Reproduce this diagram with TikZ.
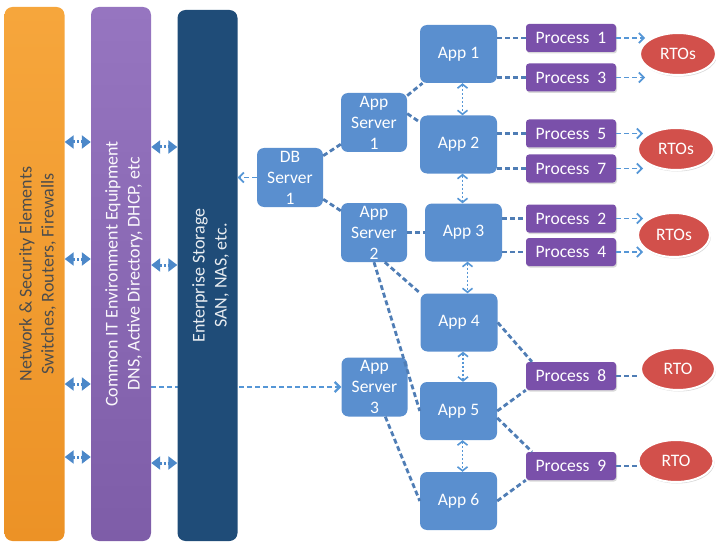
\documentclass[tikz,border=0pt]{standalone}
\usepackage{fontspec}
\setmainfont{Carlito}
\usetikzlibrary{arrows.meta, shapes.geometric, shadows}
\pgfdeclarelayer{bg}
\pgfsetlayers{bg,main}
\definecolor{netorange}{HTML}{F6A63C}
\definecolor{netorangedk}{HTML}{EC9226}
\definecolor{itpurple}{HTML}{9675C0}
\definecolor{itpurpledk}{HTML}{7E5DA8}
\definecolor{storeblue}{HTML}{1F4C78}
\definecolor{appblue}{HTML}{5A8FCF}
\definecolor{procpurple}{HTML}{7A50AA}
\definecolor{rtored}{HTML}{D2504B}
\definecolor{linkblue}{HTML}{4F7DB5}
\definecolor{flowblue}{HTML}{5596D6}
\definecolor{busblue}{HTML}{4C88C9}
\begin{document}
\begin{tikzpicture}[x=1pt, y=-1pt, >=latex,
    font=\fontsize{17.5}{21}\selectfont,
    bar/.style={rectangle, rotate=90, rounded corners=8pt, inner sep=0pt, minimum height=60},
    barlabel/.style={rotate=90, align=center, inner sep=0pt, font=\fontsize{18}{22}\selectfont},
    server/.style={rectangle, rounded corners=7pt, fill=appblue, text=white, align=center, inner sep=0pt, minimum width=66, minimum height=59},
    app/.style={server, minimum width=77, minimum height=58},
    proc/.style={rectangle, rounded corners=3pt, fill=procpurple, text=white, inner sep=0pt, minimum width=90, minimum height=28,
        drop shadow={opacity=.3, shadow xshift=1pt, shadow yshift=-1.5pt}},
    rto/.style={ellipse, fill=rtored, draw=white, line width=2pt, text=white, inner sep=0pt,
        drop shadow={opacity=.3, shadow xshift=1pt, shadow yshift=-1.5pt}},
    link/.style={draw=linkblue, line width=2.8pt, dash pattern=on 5pt off 3pt},
    flow/.style={draw=flowblue, line width=1.7pt, dash pattern=on 5pt off 3pt, -{Straight Barb[length=5pt,width=10pt]}},
    swap/.style={draw=flowblue, line width=1.6pt, dash pattern=on 2pt off 2pt,
        {Straight Barb[length=4pt,width=10pt]}-{Straight Barb[length=4pt,width=10pt]}},
    bus/.style={draw=busblue, line width=3pt, dash pattern=on 2pt off 2pt,
        {Triangle[length=9pt,width=13pt]}-{Triangle[length=9pt,width=13pt]}}]
\useasboundingbox (0,0) rectangle (716,543);

% infrastructure bars
\node[bar, minimum width=534, top color=netorange, bottom color=netorangedk] (net) at (34.5,274) {};
\node[bar, minimum width=534, top color=itpurple, bottom color=itpurpledk] (itenv) at (121,274) {};
\node[bar, minimum width=531, fill=storeblue] (store) at (207.5,275.5) {};
\node[barlabel, text=black!70] (netlbl) at ([xshift=3pt]net.center)
    {Network \& Security Elements\\Switches, Routers, Firewalls};
\node[barlabel, text=white!95!itpurple] (itenvlbl) at ([xshift=3pt]itenv.center)
    {Common IT Environment Equipment\\DNS, Active Directory, DHCP, etc};
\node[barlabel, text=white!90!storeblue] (storelbl) at ([xshift=3pt]store.center)
    {Enterprise Storage\\SAN, NAS, etc.};

\foreach \y in {142,259,384,457}
    \draw[bus] (net.south |- 0,\y) -- (itenv.north |- 0,\y);
\foreach \y in {147,265,463}
    \draw[bus] (itenv.south |- 0,\y) -- (store.north |- 0,\y);

% servers
\node[server] (db) at (290,177.5) {DB\\Server\\1};
\node[server] (as1) at (374,122.5) {App\\Server\\1};
\node[server] (as2) at (374,232.5) {App\\Server\\2};
\node[server] (as3) at (374.5,387) {App\\Server\\3};

\foreach \n/\x/\y in {1/458.5/54, 2/458.5/144.5, 3/463.5/232.5, 4/459/322.5, 5/458.5/411, 6/458.5/501}
    \node[app] (app\n) at (\x,\y) {App \n};

\foreach \n/\y in {1/38, 3/77.5, 5/133.5, 7/168.5, 2/218.5, 4/252, 8/376, 9/466}
    \node[proc] (p\n) at (571,\y) {Process~~\n};

\node[rto, minimum width=76, minimum height=42] (r1) at (678,54) {RTOs};
\node[rto, minimum width=76, minimum height=42] (r2) at (676,149) {RTOs};
\node[rto, minimum width=72, minimum height=44] (r3) at (674,235) {RTOs};
\node[rto, minimum width=74, minimum height=42] (r4) at (678,369) {RTO};
\node[rto, minimum width=75, minimum height=42] (r5) at (676,461) {RTO};

% connectors
\begin{pgfonlayer}{bg}
\draw[flow, line width=2.2pt] (itenv.south |- as3.west) -- (as3.west);
\end{pgfonlayer}
\draw[flow] (db.west) -- (db.west -| store.south);
\draw[link] (db) -- (as1);
\draw[link] (db) -- (as2);
\draw[link] (as1) -- (app1);
\draw[link] (as1.15) -- (app2.150);
\draw[link] (as2.east) -- (app3.west);
\draw[link] (as2.-70) -- (app4.north west);
\draw[link] (as2.south) -- (app5.west);
\draw[link] (as3.-70) -- (app6.west);

\foreach \a/\p in {1/1, 1/3, 2/5, 2/7, 3/2, 3/4}
    \draw[link] (p\p.west -| app\a.east) -- (p\p.west);
\foreach \p/\r in {1/1, 3/1, 5/2, 7/2, 2/3, 4/3}
    \draw[flow] (p\p.east) -- ([xshift=6pt]p\p.east -| r\r.west);

\draw[link] (app4.east) -- (p8.160);
\draw[link] (app5.east) -- (p8.south west);
\draw[link] (app5.-10) -- (p9.160);
\draw[link] (app6.east) -- (p9.south west);
\draw[link] (p8.east) -- (p8.east -| r4.west);
\draw[link] (p9.east) -- (p9.east -| r5.west);

\foreach \a/\b in {app1/app2, app2/app3, app3/app4, app4/app5, app5/app6}
    \draw[swap] ([xshift=4pt]\a.south) -- ([xshift=4pt]\a.south |- \b.north);
\end{tikzpicture}
\end{document}
